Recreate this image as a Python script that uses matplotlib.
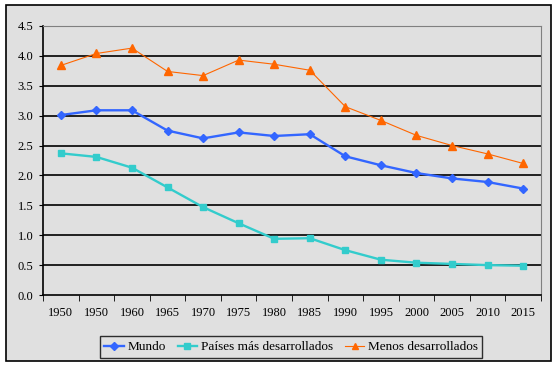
import numpy as np
import matplotlib
matplotlib.use("Agg")
import matplotlib.pyplot as plt
from matplotlib.patches import Rectangle

# Categorías (tal como aparecen en el eje)
years = ['1950', '1950', '1960', '1965', '1970', '1975', '1980', '1985',
         '1990', '1995', '2000', '2005', '2010', '2015']

# Series
mundo = [3.01, 3.09, 3.09, 2.75, 2.62, 2.72, 2.66, 2.69, 2.32, 2.17, 2.04, 1.95, 1.89, 1.78]
paises_des = [2.37, 2.31, 2.13, 1.80, 1.47, 1.20, 0.94, 0.95, 0.75, 0.59, 0.54, 0.52, 0.50, 0.49]
menos_des = [3.84, 4.04, 4.13, 3.74, 3.67, 3.93, 3.86, 3.76, 3.15, 2.92, 2.67, 2.50, 2.36, 2.20]

plt.rcParams['font.family'] = ['Liberation Serif', 'DejaVu Serif']
plt.rcParams['font.size'] = 9

fig = plt.figure(figsize=(5.56, 3.67), dpi=100)
fig.patch.set_facecolor('white')
# outer chart area: gray with black border
fig.patches.append(Rectangle((6/556, 1-361/367), 545/556, 356/367, transform=fig.transFigure,
                             facecolor='#E0E0E0', edgecolor='black', linewidth=1.2, zorder=-5))

ax = fig.add_axes([43/556, 1-295/367, 498/556, 269/367])
ax.set_facecolor('#E0E0E0')

x = np.arange(len(years))
ax.plot(x, mundo, color='#3366FF', lw=1.7, marker='D', ms=4.5, label='Mundo', zorder=3)
ax.plot(x, paises_des, color='#33CCCC', lw=1.7, marker='s', ms=5, label='Países más desarrollados', zorder=3)
ax.plot(x, menos_des, color='#FF6600', lw=0.8, marker='^', ms=5.5, label='Menos desarrollados', zorder=3)

ax.set_xlim(-0.5, len(years) - 0.5)
ax.set_ylim(0, 4.5)
ax.set_yticks(np.arange(0, 4.51, 0.5))
ax.set_yticklabels(['%.1f' % v for v in np.arange(0, 4.51, 0.5)])
ax.set_xticks(x)
ax.set_xticklabels(years)
ax.set_xticks(np.arange(-0.5, len(years), 1), minor=True)
ax.tick_params(axis='x', which='major', length=0, pad=9)
ax.tick_params(axis='x', which='minor', length=4, direction='out', color='black')
ax.tick_params(axis='y', length=3, direction='out', pad=4, color='black')

for yv in np.arange(0.5, 4.01, 0.5):
    ax.axhline(yv, color='black', lw=1.2, zorder=1)

ax.spines['left'].set_color('black')
ax.spines['bottom'].set_color('black')
ax.spines['left'].set_linewidth(1.2)
ax.spines['bottom'].set_linewidth(1.2)
ax.spines['top'].set_color('#808080')
ax.spines['right'].set_color('#808080')

leg = fig.legend(loc='center', bbox_to_anchor=(291/556, 1-347/367), ncol=3,
                 frameon=True, fancybox=False, edgecolor='black', facecolor='#E0E0E0',
                 handlelength=1.5, handletextpad=0.25, columnspacing=0.9,
                 borderpad=0.35, markerscale=0.9, fontsize=9.5)
leg.get_frame().set_linewidth(1.0)

fig.savefig('out.png', dpi=100, facecolor='white')
